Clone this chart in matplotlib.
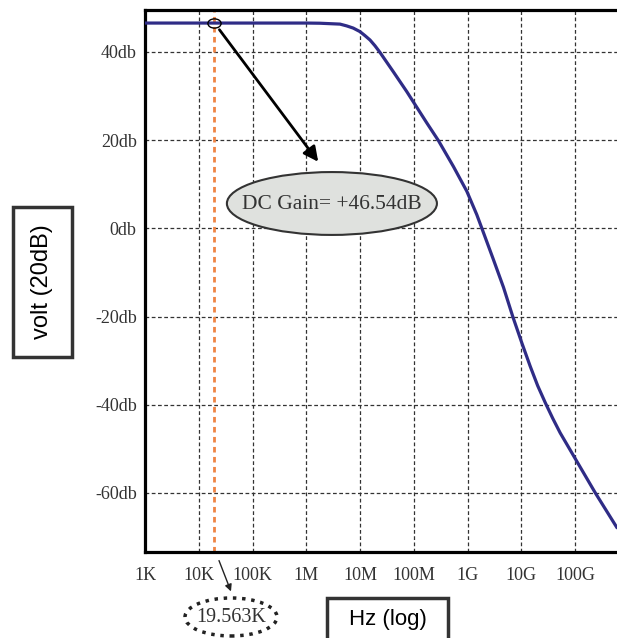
import matplotlib
matplotlib.use("Agg")
import matplotlib.pyplot as plt
from matplotlib.patches import Ellipse, Rectangle, FancyArrowPatch
from matplotlib.path import Path
from matplotlib.transforms import Affine2D

# gain curve (Hz, dB)
freq_hz = [1e3, 1e6, 1.79e6, 4.23e6, 5.62e6, 7.46e6, 9.95e6, 1.23e7, 1.53e7,
           1.89e7, 2.34e7, 4.15e7, 7.38e7, 1.01e8, 1.74e8, 2.86e8, 5.45e8,
           9.66e8, 1.48e9, 1.84e9, 3.02e9, 4.65e9, 6.95e9, 1.02e10, 1.46e10,
           2.01e10, 2.77e10, 3.83e10, 5.27e10, 1.0e11, 2.37e11, 6.0e11]
gain_db = [46.54, 46.54, 46.5, 46.3, 45.9, 45.4, 44.6, 43.7, 42.7,
           41.4, 39.9, 35.5, 31.0, 28.4, 23.9, 19.9, 14.0,
           8.4, 3.1, 0.0, -7.1, -13.4, -20.1, -26.0, -31.3,
           -35.7, -39.5, -43.1, -46.4, -52.2, -60.0, -67.9]

dc_gain = 46.54
f_cut = 19563

x_ticks = [1e3, 1e4, 1e5, 1e6, 1e7, 1e8, 1e9, 1e10, 1e11]
x_labels = ["1K", "10K", "100K", "1M", "10M", "100M", "1G", "10G", "100G"]
y_ticks = [-60, -40, -20, 0, 20, 40]
y_labels = ["-60db", "-40db", "-20db", "0db", "20db", "40db"]

serif = "Liberation Serif"
sans = "Liberation Sans"
W, H = 617, 638

fig = plt.figure(figsize=(W / 100, H / 100), dpi=100)
ax = fig.add_axes([145 / W, 1 - 552 / H, 1 - 145 / W, (552 - 10) / H])

ax.set_xscale("log")
ax.set_xlim(1e3, 6.0e11)
ax.set_ylim(-73.4, 49.5)
ax.minorticks_off()
ax.set_xticks(x_ticks)
ax.set_xticklabels(x_labels, fontfamily=serif, fontsize=13, color="#333333")
ax.set_yticks(y_ticks)
ax.set_yticklabels(y_labels, fontfamily=serif, fontsize=13, color="#333333")
ax.tick_params(axis="x", length=0, pad=11)
ax.tick_params(axis="y", length=0, pad=6)

ax.grid(True, color="#333333", linewidth=0.9, linestyle=(0, (3, 2)))
ax.set_axisbelow(True)

for side in ["top", "left", "bottom"]:
    ax.spines[side].set_linewidth(2.3)
    ax.spines[side].set_color("black")
ax.spines["right"].set_visible(False)

# orange marker line at the corner frequency
ax.axvline(f_cut, color="#ef8444", linewidth=2, linestyle=(0, (2, 1.6)), zorder=2)

ax.plot(freq_hz, gain_db, color="#2f2c86", linewidth=2.3, zorder=3,
        solid_joinstyle="round", solid_capstyle="round")

# small oval on the curve
oval = Path.unit_circle().transformed(Affine2D().scale(1.0, 0.7))
ax.plot([f_cut], [dc_gain], marker=oval, markersize=9.5, markerfacecolor="none",
        markeredgecolor="black", markeredgewidth=1, zorder=4)

ax.annotate("", xy=(0.367, 0.720), xycoords="axes fraction",
            xytext=(f_cut, dc_gain), textcoords="data",
            arrowprops=dict(arrowstyle="-|>", color="black", lw=2,
                            mutation_scale=22, shrinkA=6, shrinkB=0))

# DC gain bubble
bubble = Ellipse((0.396, 0.643), 0.445, 0.116, transform=ax.transAxes,
                 facecolor="#dfe1de", edgecolor="#333333", linewidth=1.5, zorder=5)
ax.add_patch(bubble)
ax.text(0.396, 0.641, "DC Gain= +46.54dB", transform=ax.transAxes, ha="center",
        va="center", fontfamily=serif, fontsize=15.5, color="#333333", zorder=6)

# frequency call-out below the axis
fig.add_artist(FancyArrowPatch(
    (218 / W, 1 - 558 / H), (232 / W, 1 - 594 / H), transform=fig.transFigure,
    arrowstyle="-|>", mutation_scale=10, color="#222222", lw=1))
fig.add_artist(Ellipse((231 / W, 1 - 617 / H), 92 / W, 38 / H,
                       transform=fig.transFigure, fill=False,
                       edgecolor="#222222", linewidth=2.5, linestyle=":"))
fig.text(231 / W, 1 - 617 / H, "19.563K", ha="center", va="center",
         fontfamily=serif, fontsize=14.5, color="#333333")

# axis name boxes
fig.add_artist(Rectangle((327 / W, -2 / H), 121 / W, 42 / H, transform=fig.transFigure,
                         fill=False, edgecolor="#333333", linewidth=2.5))
fig.text(388 / W, 1 - 620 / H, "Hz (log)", ha="center", va="center",
         fontfamily=sans, fontsize=16, color="black")

fig.add_artist(Rectangle((13 / W, 1 - 357 / H), 59 / W, 150 / H, transform=fig.transFigure,
                         fill=False, edgecolor="#333333", linewidth=2.5))
fig.text(42 / W, 1 - 282 / H, "volt (20dB)", ha="center", va="center", rotation=90,
         fontfamily=sans, fontsize=17, color="black")

fig.savefig("out.png", dpi=100)
